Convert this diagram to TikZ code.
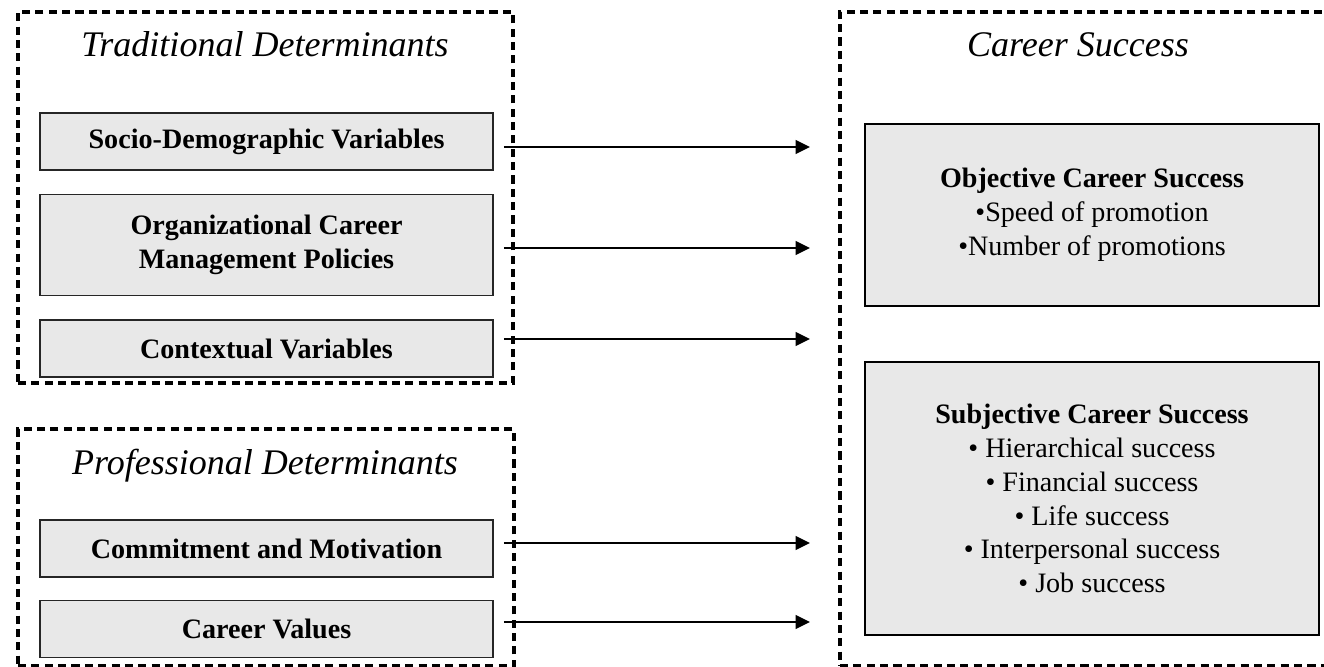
\documentclass[tikz,border=0pt]{standalone}
\usepackage{fontspec}
\setmainfont{Liberation Serif}
\usetikzlibrary{arrows.meta,positioning}
\tikzset{
  group/.style={draw,rectangle,line width=2pt,dash pattern=on 4.6pt off 3pt},
  head/.style={anchor=base,font=\fontsize{20.5}{24}\selectfont\itshape},
  factor/.style={draw=black!85,fill=black!9,rectangle,line width=0.9pt,minimum width=9.06cm,minimum height=1.14cm,align=center,font=\fontsize{16}{19.3}\selectfont\bfseries},
  outcome/.style={draw,fill=black!9,rectangle,line width=1.2pt,minimum width=9.08cm,align=center,font=\fontsize{16}{19.3}\selectfont},
  signal/.style={-{Triangle[length=2.9mm,width=2.7mm]},line width=1.5pt}
}

\begin{document}
\begin{tikzpicture}[x=0.02cm,y=-0.02cm,node distance=4.6mm]
\useasboundingbox (0,0) rectangle (1324,666);

% dashed groups
\node[group,minimum width=9.9cm,minimum height=7.42cm] (trad) at (265.5,197.5) {};
\node[group,minimum width=9.92cm,minimum height=4.74cm] (prof) at (266,547.5) {};
\node[group,minimum width=9.9cm,minimum height=13.08cm] (success) at (1087.5,339) {};

\node[head] (tradtitle) at (265,56) {Traditional Determinants};
\node[head] (proftitle) at (265,474) {Professional Determinants};
\node[head] (successtitle) at (1078,56) {Career Success};

% determinants
\node[factor] (socio) at (266.5,141.5) {Socio-Demographic Variables};
\node[factor,minimum height=2.02cm,below=of socio] (ocm) {Organizational Career\\Management Policies};
\node[factor,below=of ocm] (context) {Contextual Variables};

\node[factor] (commit) at (266.5,548.5) {Commitment and Motivation};
\node[factor,below=4.4mm of commit] (values) {Career Values};

% outcomes
\node[outcome,minimum height=3.64cm] (objective) at (1092,215) {\textbf{Objective Career Success}\\
\textbullet Speed of promotion\\
\textbullet Number of promotions};
\node[outcome,minimum height=5.46cm] (subjective) at (1092,498.5) {\textbf{Subjective Career Success}\\
\textbullet{} Hierarchical success\\
\textbullet{} Financial success\\
\textbullet{} Life success\\
\textbullet{} Interpersonal success\\
\textbullet{} Job success};

% arrows
\coordinate (in1) at (810,147);
\coordinate (in2) at (810,248);
\coordinate (in3) at (810,339);
\coordinate (in4) at (810,543);
\coordinate (in5) at (810,622);

\draw[signal] ([xshift=2mm]socio.east |- in1) -- (in1);
\draw[signal] ([xshift=2mm]ocm.east |- in2) -- (in2);
\draw[signal] ([xshift=2mm]context.east |- in3) -- (in3);
\draw[signal] ([xshift=2mm]commit.east |- in4) -- (in4);
\draw[signal] ([xshift=2mm]values.east |- in5) -- (in5);

\end{tikzpicture}
\end{document}
